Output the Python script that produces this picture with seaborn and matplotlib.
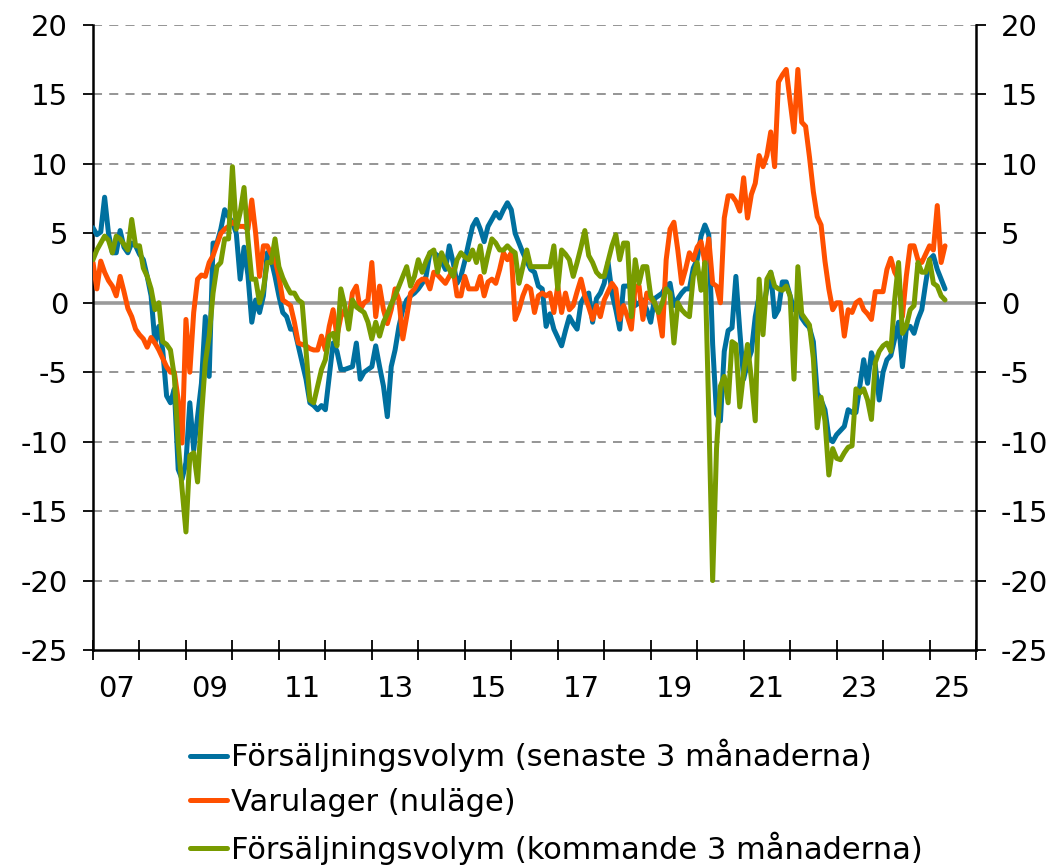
import numpy as np
import pandas as pd
import matplotlib
matplotlib.use("Agg")
import matplotlib.pyplot as plt
from matplotlib.lines import Line2D
import seaborn as sns

# Månadsdata från januari 2007
forsaljning_senaste = [
    5.4, 4.9, 5.1, 7.6, 5.0, 3.6, 3.6, 5.2, 4.0, 3.6,
    4.3, 4.1, 3.5, 3.1, 1.9, 0.5, -2.9, -1.7, -3.4, -6.7,
    -7.2, -6.2, -12.0, -12.7, -11.5, -7.2, -10.6, -8.2, -5.8, -1.0,
    -5.3, 4.3, 4.3, 5.3, 6.7, 6.2, 5.8, 5.0, 1.7, 4.0,
    2.0, -1.4, 0.2, -0.7, 0.5, 3.6, 3.1, 1.9, 0.5, -0.7,
    -1.0, -1.9, -1.9, -3.1, -4.3, -5.5, -7.2, -7.4, -7.7, -7.4,
    -7.7, -5.3, -2.9, -3.5, -4.8, -4.8, -4.7, -4.6, -2.9, -5.5,
    -5.0, -4.8, -4.6, -3.1, -4.6, -6.0, -8.2, -4.6, -3.4, -1.7,
    -0.5, 0.2, 0.5, 0.7, 1.0, 1.4, 1.9, 3.6, 3.6, 3.4,
    3.0, 2.4, 4.1, 2.9, 1.4, 1.9, 3.0, 4.3, 5.5, 6.0,
    5.3, 4.4, 5.5, 6.0, 6.5, 6.1, 6.7, 7.2, 6.7, 5.0,
    4.3, 3.6, 3.0, 2.4, 2.2, 1.2, 1.0, -1.7, -0.8, -1.9, -2.5,
    -3.1, -2.0, -1.0, -1.5, -1.9, 0.0, 0.5, 0.7, -1.4, 0.3,
    0.7, 1.4, 2.9, 0.7, -0.5, -1.9, 1.2, 1.2, 1.4, -0.2,
    0.0, 0.2, -0.5, -1.4, 0.3, 0.5, 0.7, 1.2, 1.4, -0.2,
    0.3, 0.7, 1.0, 1.0, 2.5, 3.1, 4.8, 5.6, 4.9, -3.0,
    -8.0, -8.5, -3.5, -2.0, -1.8, 1.9, -2.0, -5.5, -4.3, -3.5,
    -1.0, 0.5, -0.5, 1.0, 2.2, -1.0, -0.5, 1.5, 1.5, 0.5,
    -0.5, 0.2, -1.1, -1.5, -1.8, -2.8, -6.5, -7.0, -7.7, -9.7,
    -10.0, -9.5, -9.2, -8.9, -7.7, -7.9, -7.9, -6.0, -4.1, -5.8,
    -3.6, -4.5, -7.0, -5.0, -4.1, -3.8, -2.6, -1.4, -4.6, -1.9,
    -1.7, -2.2, -1.2, -0.5, 1.4, 3.1, 3.4, 2.4, 1.7, 1.0,
]

varulager = [
    2.9, 1.0, 3.0, 2.2, 1.6, 1.2, 0.5, 1.9, 0.8, -0.4,
    -1.0, -1.9, -2.3, -2.6, -3.2, -2.5, -2.9, -3.4, -4.0, -4.6,
    -5.0, -5.0, -7.0, -10.1, -1.2, -5.0, -0.7, 1.7, 2.0, 1.9,
    2.9, 3.4, 4.2, 5.0, 5.3, 5.5, 5.8, 5.6, 5.5, 5.5,
    5.3, 7.4, 5.0, 1.9, 4.1, 4.1, 3.5, 3.1, 1.9, 0.2,
    0.0, -0.2, -1.4, -2.9, -3.0, -3.1, -3.3, -3.4, -3.4, -2.4,
    -3.4, -1.7, -0.5, -2.4, -1.0, -0.5, -1.2, 0.7, 1.2, -0.5,
    0.0, 0.2, 2.9, -1.0, 1.2, -0.5, -1.5, -0.5, 1.0, 0.2,
    -2.6, -1.0, 0.7, 1.0, 1.5, 1.7, 1.7, 1.0, 2.2, 2.0,
    1.7, 1.4, 1.9, 2.4, 0.5, 0.5, 1.9, 1.0, 1.0, 1.0,
    1.9, 0.5, 1.5, 1.7, 1.4, 2.4, 3.6, 3.1, 3.6, -1.2,
    -0.5, 0.5, 1.2, 1.0, -0.7, 0.5, 0.7, 0.5, 0.7, -0.7, 1.2,
    -0.7, 0.7, -0.5, -0.2, 0.8, 1.7, 0.5, -0.3, -1.2, -0.2,
    -1.0, 0.2, 0.8, 1.4, 1.0, -1.2, -0.2, -1.0, -1.9, 1.2,
    1.2, -1.2, 0.7, 0.3, 0.0, -0.7, -2.4, 3.1, 5.3, 5.8,
    3.8, 1.4, 2.4, 3.6, 3.1, 4.0, 4.4, 2.9, 4.6, 1.4,
    1.2, 0.0, 6.1, 7.7, 7.7, 7.3, 6.6, 9.0, 6.1, 7.8,
    8.6, 10.6, 9.8, 10.6, 12.3, 9.8, 15.9, 16.4, 16.8, 14.5,
    12.3, 16.8, 13.0, 12.7, 10.5, 8.0, 6.2, 5.6, 3.0, 1.0,
    -0.5, 0.0, 0.0, -2.4, -0.5, -0.7, 0.0, 0.2, -0.5, -0.8,
    -1.2, 0.8, 0.8, 0.8, 2.4, 3.2, 2.2, 1.7, -1.0, 1.9,
    4.1, 4.1, 3.1, 2.9, 3.5, 4.1, 3.8, 7.0, 2.9, 4.1,
]

forsaljning_kommande = [
    3.1, 3.8, 4.3, 4.8, 4.5, 3.6, 4.8, 4.6, 4.2, 3.8,
    6.0, 4.1, 4.1, 2.5, 1.9, 1.0, -0.5, 0.0, -2.8, -3.0,
    -3.4, -5.3, -10.1, -13.4, -16.5, -11.0, -10.8, -12.9, -8.2, -4.3,
    -2.4, 0.7, 2.6, 2.9, 4.6, 4.6, 9.8, 5.3, 6.5, 8.3,
    4.6, 1.7, 1.7, 0.0, 1.0, 2.9, 2.9, 4.6, 2.6, 1.8,
    1.2, 0.7, 0.7, 0.2, 0.0, -3.4, -7.0, -7.2, -6.0, -4.8,
    -4.1, -2.4, -2.2, -3.1, 1.0, -0.2, -1.9, 0.2, -0.3, -0.5,
    -0.7, -1.4, -2.6, -1.4, -2.4, -1.4, -0.8, -0.1, 0.5, 1.2,
    1.9, 2.6, 1.2, 1.9, 3.1, 2.2, 3.0, 3.6, 3.8, 2.2,
    3.6, 2.9, 2.4, 1.9, 3.1, 3.6, 3.3, 3.1, 3.8, 2.9,
    4.1, 2.2, 3.5, 4.6, 4.3, 3.8, 3.8, 4.1, 3.8, 3.6,
    1.4, 2.6, 3.8, 2.6, 2.6, 2.6, 2.6, 2.6, 2.6, 4.1, 1.0,
    3.8, 3.5, 3.1, 1.9, 2.9, 4.0, 5.2, 3.4, 2.9, 2.2,
    1.9, 1.9, 3.0, 4.1, 4.9, 3.1, 4.3, 4.3, -1.0, 3.1,
    1.4, 2.6, 2.6, 0.5, 0.0, -0.7, 0.0, 1.0, 0.7, -2.9,
    0.0, -0.5, -0.8, -1.0, 1.9, 2.9, 0.9, 2.9, -7.9, -20.0,
    -10.5, -6.0, -5.3, -7.2, -2.8, -3.0, -7.5, -5.0, -3.0, -5.5,
    -8.5, 1.7, -2.3, 1.7, 2.2, 1.2, 1.0, 0.9, 1.2, 0.5,
    -5.5, 2.6, -0.8, -1.2, -1.6, -4.0, -9.0, -6.8, -8.5, -12.4,
    -10.5, -11.2, -11.3, -10.8, -10.4, -10.3, -6.2, -6.5, -6.2, -7.0,
    -8.4, -4.3, -3.5, -3.1, -2.9, -3.5, 0.2, 2.9, -2.2, -1.7,
    -0.5, -0.2, 2.9, 2.2, 2.2, 3.1, 1.4, 1.2, 0.5, 0.2,
]

serier = [
    "Försäljningsvolym (senaste 3 månaderna)",
    "Varulager (nuläge)",
    "Försäljningsvolym (kommande 3 månaderna)",
]
farger = ["#00709f", "#ff5000", "#789b00"]
ar_etiketter = ["07", "09", "11", "13", "15", "17", "19", "21", "23", "25"]

# tidsaxel som decimalår
datum = pd.date_range("2007-01-01", periods=len(forsaljning_senaste), freq="MS")
t = datum.year + (datum.month - 1) / 12

df = pd.concat([
    pd.DataFrame({"t": t, "varde": forsaljning_senaste, "serie": serier[0]}),
    pd.DataFrame({"t": t, "varde": varulager, "serie": serier[1]}),
    pd.DataFrame({"t": t, "varde": forsaljning_kommande, "serie": serier[2]}),
])

sns.set_theme(style="white")
plt.rcParams["font.family"] = ["DejaVu Sans"]
plt.rcParams["axes.unicode_minus"] = False
plt.rcParams["text.color"] = "black"

fig = plt.figure(figsize=(10.63, 8.68), dpi=100)
ax = fig.add_axes([93 / 1063, 1 - 650 / 868, 883 / 1063, 625 / 868])

ax.axhline(0, color="#9a9a9a", lw=2.6, zorder=1)
sns.lineplot(data=df, x="t", y="varde", hue="serie", hue_order=serier,
             palette=farger, linewidth=3.6, legend=False, ax=ax, zorder=3)

ax.set_xlim(2007, 2026)
ax.set_ylim(-25, 20)
ax.set_yticks(np.arange(-25, 21, 5))
ax.set_xticks(np.arange(2007, 2027))
ax.set_xticks([2007.5 + 2 * i for i in range(len(ar_etiketter))], minor=True)
ax.set_xticklabels([])
ax.set_xticklabels(ar_etiketter, minor=True)
ax.set_xlabel("")
ax.set_ylabel("")

for y in range(-20, 21, 5):
    if y != 0:
        ax.axhline(y, color="#8c8c8c", lw=1.3, linestyle=(0, (5, 4)), zorder=0)

for side in ["left", "right", "bottom"]:
    ax.spines[side].set_visible(True)
    ax.spines[side].set_color("black")
    ax.spines[side].set_linewidth(1.8)
ax.spines["top"].set_visible(False)

ax.tick_params(axis="y", which="major", left=True, right=True, labelleft=True,
               labelright=True, direction="out", length=7, width=1.3,
               pad=11, labelsize=21, colors="black")
ax.tick_params(axis="x", which="major", bottom=True, direction="inout",
               length=14, width=1.3, colors="black")
ax.tick_params(axis="x", which="minor", bottom=True, length=0, pad=18,
               labelsize=21, labelcolor="black")

handtag = [Line2D([0], [0], color=c, lw=3.6, solid_capstyle="round") for c in farger]
fig.legend(handtag, serier, loc="upper left", bbox_to_anchor=(190 / 1063, 1 - 739 / 868),
           frameon=False, fontsize=22, handlelength=1.2, handletextpad=0.15,
           borderpad=0, borderaxespad=0, labelspacing=0.5, labelcolor="black")

fig.savefig("out.png", dpi=100)
